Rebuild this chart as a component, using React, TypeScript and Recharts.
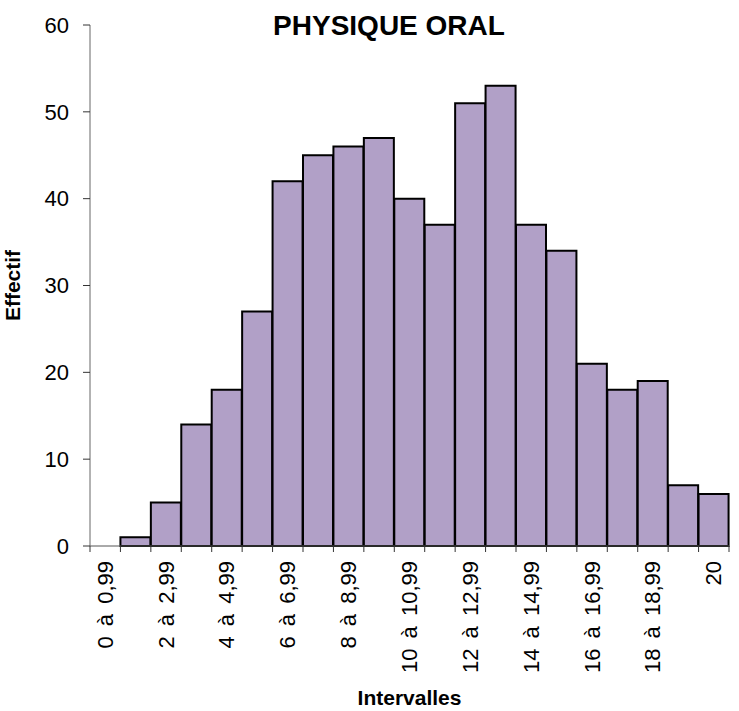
import React from 'react';
import { BarChart, Bar, XAxis, YAxis } from 'recharts';

const CATEGORIES = [
  '0 à 0,99', '1 à 1,99', '2 à 2,99', '3 à 3,99', '4 à 4,99', '5 à 5,99', '6 à 6,99',
  '7 à 7,99', '8 à 8,99', '9 à 9,99', '10 à 10,99', '11 à 11,99', '12 à 12,99',
  '13 à 13,99', '14 à 14,99', '15 à 15,99', '16 à 16,99', '17 à 17,99', '18 à 18,99',
  '19 à 19,99', '20',
];
const EFFECTIF = [0, 1, 5, 14, 18, 27, 42, 45, 46, 47, 40, 37, 51, 53, 37, 34, 21, 18, 19, 7, 6];
const Y_TICKS = [0, 10, 20, 30, 40, 50, 60];
const TITLE = 'PHYSIQUE ORAL';
const X_TITLE = 'Intervalles';
const Y_TITLE = 'Effectif';

const data = CATEGORIES.map((c, i) => ({ cat: c, v: EFFECTIF[i] }));

const FONT = 'Liberation Sans, Arial, sans-serif';
const TICK_SIZE = 6;
const TICK_MARGIN = 9;

const XTick = (props: any) => {
  const { x, y, payload, index, width } = props;
  const band = (width && width > 0 ? width : 639) / CATEGORIES.length;
  const axisY = y - TICK_SIZE - TICK_MARGIN;
  const left = x - band / 2;
  const idx = payload && payload.index != null ? payload.index : index;
  return (
    <g>
      <line x1={left} x2={left} y1={axisY} y2={axisY + TICK_SIZE} stroke="#333" strokeWidth={1} />
      {idx === CATEGORIES.length - 1 && (
        <line x1={x + band / 2} x2={x + band / 2} y1={axisY} y2={axisY + TICK_SIZE} stroke="#333" strokeWidth={1} />
      )}
      {idx % 2 === 0 && (
        <text
          x={x}
          y={y}
          transform={`rotate(-90, ${x}, ${y})`}
          textAnchor="end"
          dominantBaseline="central"
          fontSize={22}
          fontFamily={FONT}
          wordSpacing={4}
          fill="#000"
        >
          {payload.value}
        </text>
      )}
    </g>
  );
};

export default function App() {
  return (
    <div style={{ position: 'absolute', left: 0, top: 0, width: 739, height: 711, background: '#fff' }}>
      <BarChart
        width={739}
        height={711}
        data={data}
        margin={{ top: 25, right: 10, bottom: 0, left: 0 }}
        barCategoryGap={0}
        barGap={0}
      >
        <text x={389} y={35} textAnchor="middle" fontSize={28} fontWeight="bold" fontFamily={FONT} fill="#000">
          {TITLE}
        </text>
        <XAxis
          dataKey="cat"
          interval={0}
          height={165}
          tickLine={false}
          tickSize={TICK_SIZE}
          tickMargin={TICK_MARGIN}
          tick={<XTick />}
          axisLine={{ stroke: '#555', strokeWidth: 1 }}
          label={{ value: X_TITLE, position: 'insideBottom', offset: 6, fontSize: 21, fontWeight: 'bold', fontFamily: FONT, fill: '#000' }}
        />
        <YAxis
          domain={[0, 60]}
          ticks={Y_TICKS}
          interval={0}
          width={90}
          tickSize={7}
          tickMargin={14}
          tick={{ fontSize: 22, fontFamily: FONT, fill: '#000' }}
          tickLine={{ stroke: '#333' }}
          axisLine={{ stroke: '#666', strokeWidth: 1 }}
          label={{ value: Y_TITLE, angle: -90, position: 'insideLeft', offset: 13, style: { textAnchor: 'middle' }, fontSize: 21, fontWeight: 'bold', fontFamily: FONT, fill: '#000' }}
        />
        <Bar dataKey="v" fill="#B1A0C7" stroke="#000" strokeWidth={2} isAnimationActive={false} />
      </BarChart>
    </div>
  );
}
